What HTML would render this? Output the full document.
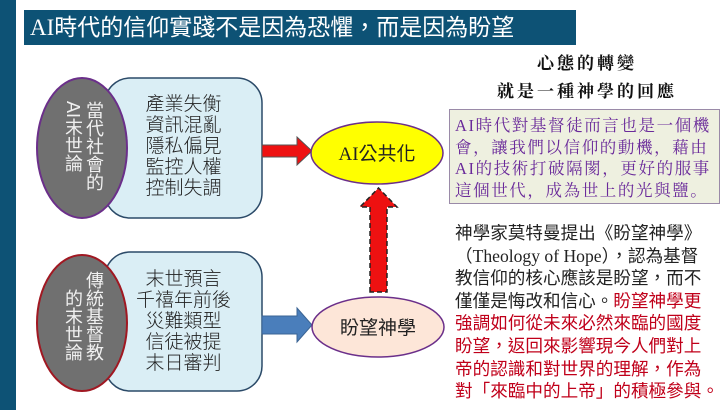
<!DOCTYPE html>
<html><head><meta charset="utf-8"><style>
body{margin:0;width:728px;height:410px;background:#fff;position:relative;overflow:hidden;font-family:"Liberation Sans","Noto Sans CJK TC",sans-serif}
.a{position:absolute}
.title{left:24px;top:10px;width:552px;height:35px;background:#0d5275;color:#fff;font-family:"Liberation Serif","Noto Sans CJK TC",serif;font-size:23px;line-height:35px;padding-left:6px;box-sizing:border-box;white-space:nowrap}
.list{color:#222;font-size:19px;line-height:21px;text-align:center;width:157px;font-weight:300}
.vert{writing-mode:vertical-rl;color:#f0f0f0;font-size:18px;line-height:21px}
.head{font-family:"Liberation Serif","Noto Serif CJK SC",serif;font-weight:bold;font-size:17px;letter-spacing:3px;text-align:center;width:270px;left:452px;color:#111}
.box{left:449px;top:109px;width:271px;height:95px;background:#eef0e0;border:1.5px solid #9a8aa8;box-sizing:border-box;color:#6a2a9a;font-family:"Liberation Serif","Noto Serif CJK SC",serif;font-size:16.5px;line-height:21.5px;padding:5px 0 0 5px;letter-spacing:1.6px;white-space:nowrap}
.para{left:455px;top:222px;width:275px;font-size:17.6px;line-height:22.6px;color:#222;font-family:"Liberation Sans Narrow","Liberation Serif","Noto Sans CJK TC",serif;white-space:nowrap}
.red{color:#c0001a}
</style></head><body>
<div class="a" style="left:0;top:0;width:16px;height:410px;background:#0d5275"></div>
<div class="a title">AI時代的信仰實踐不是因為恐懼，而是因為盼望</div>
<svg class="a" style="left:0;top:0" width="728" height="410">
<rect x="105" y="78" width="157" height="140" rx="25" fill="#daeef5" stroke="#2b4a68" stroke-width="1.5"/>
<ellipse cx="82" cy="148" rx="45" ry="70" fill="#707070" stroke="#6b2f8a" stroke-width="2"/>
<rect x="105" y="252" width="157" height="139" rx="25" fill="#daeef5" stroke="#2b4a68" stroke-width="1.5"/>
<ellipse cx="82" cy="323" rx="45" ry="68" fill="#707070" stroke="#a01822" stroke-width="2"/>
<polygon points="262,145 297,145 297,137 312,151 297,165 297,157 262,157" fill="#ee1111" stroke="#555" stroke-width="1"/>
<polygon points="262,316 297,316 297,308 312,325 297,342 297,334 262,334" fill="#4a7ebb" stroke="#3b6494" stroke-width="1"/>
<polygon points="370,292 370,207 360,207 378.5,188 397,207 387,207 387,292" fill="#ee1111" stroke="#222" stroke-width="1.5" stroke-dasharray="5,3"/>
<ellipse cx="377" cy="153" rx="66" ry="31" fill="#ffff00" stroke="#6b2f8a" stroke-width="1.5"/>
<ellipse cx="378" cy="327" rx="66" ry="30" fill="#fde6d8" stroke="#6b2f8a" stroke-width="1.5"/>
<text x="377" y="160" font-size="19" text-anchor="middle" font-family="Liberation Serif,Noto Sans CJK TC,serif" fill="#222">AI公共化</text>
<text x="378" y="334" font-size="19" text-anchor="middle" font-family="Liberation Sans,Noto Sans CJK TC,sans-serif" fill="#222">盼望神學</text>
</svg>
<div class="a vert" style="left:62px;top:101px;height:120px">當代社會的<br>AI末世論</div>
<div class="a vert" style="left:62px;top:271px;height:120px">傳統基督教<br><span style="padding-top:18px">的末世論</span></div>
<div class="a list" style="left:105px;top:94px">產業失衡<br>資訊混亂<br>隱私偏見<br>監控人權<br>控制失調</div>
<div class="a list" style="left:105px;top:269px">末世預言<br>千禧年前後<br>災難類型<br>信徒被提<br>末日審判</div>
<div class="a head" style="top:49px">心態的轉變</div>
<div class="a head" style="top:77px">就是一種神學的回應</div>
<div class="a box">AI時代對基督徒而言也是一個機<br>會，讓我們以信仰的動機，藉由<br>AI的技術打破隔閡，更好的服事<br>這個世代，成為世上的光與鹽。</div>
<div class="a para">神學家莫特曼提出《盼望神學》<br>（Theology of Hope），認為基督<br>教信仰的核心應該是盼望，而不<br>僅僅是悔改和信心。<span class="red">盼望神學更<br>強調如何從未來必然來臨的國度<br>盼望，返回來影響現今人們對上<br>帝的認識和對世界的理解，作為<br>對「來臨中的上帝」的積極參與。</span></div>
</body></html>
